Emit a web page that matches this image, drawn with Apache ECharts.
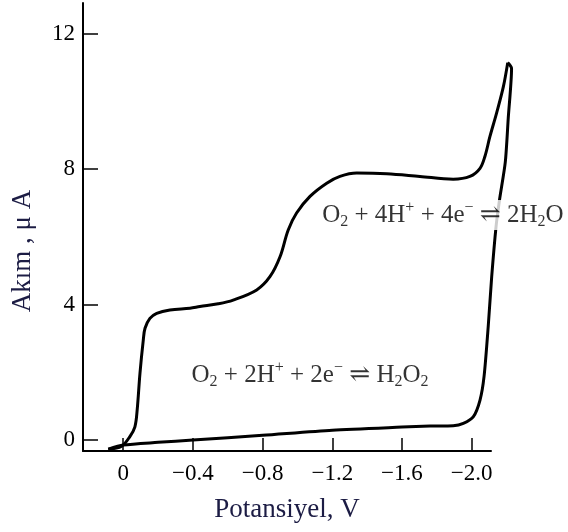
<!DOCTYPE html>
<html>
<head>
<meta charset="utf-8">
<script src="https://cdn.jsdelivr.net/npm/echarts@6/dist/echarts.min.js"></script>
<style>html,body{margin:0;padding:0;background:#fff}#c{width:568px;height:532px}</style>
</head>
<body>
<div id="c"></div>
<script>
// Potential (V) and current (µA)
const forwardScan = [
  [0.086,-0.27],[0.009,-0.18],[-0.038,0.10],[-0.067,0.39],[-0.080,0.89],[-0.096,1.97],
  [-0.115,2.95],[-0.125,3.30],[-0.153,3.59],[-0.192,3.74],[-0.268,3.84],[-0.383,3.89],
  [-0.440,3.94],[-0.545,4.02],[-0.631,4.13],[-0.766,4.43],[-0.842,4.82],[-0.900,5.41],
  [-0.947,6.20],[-0.995,6.70],[-1.072,7.19],[-1.168,7.58],[-1.244,7.78],[-1.340,7.88],
  [-1.512,7.86],[-1.703,7.78],[-1.894,7.70],[-1.990,7.78],[-2.048,8.02],[-2.076,8.37],
  [-2.105,8.96],[-2.143,9.65],[-2.182,10.43],[-2.207,11.14]
];
const reverseScan = [
  [-2.207,11.14],[-2.229,10.97],[-2.210,9.50],[-2.193,8.20],[-2.160,7.09],[-2.140,6.30],
  [-2.115,4.82],[-2.095,3.35],[-2.071,1.87],[-2.048,1.18],[-2.010,0.69],[-1.952,0.49],
  [-1.894,0.42],[-1.761,0.41],[-1.600,0.38],[-1.200,0.29],[-0.800,0.14],[-0.400,0.00],
  [-0.200,-0.07],[0.000,-0.15],[0.086,-0.27]
];
const xTicks = [0, -0.4, -0.8, -1.2, -1.6, -2.0];
const yTicks = [0, 4, 8, 12];
const reactionLabels = [
  '{t|O}{s|2}{t| + 4H}{p|+}{t| + 4e}{p|−}{t| ⇌ 2H}{s|2}{t|O}',
  '{t|O}{s|2}{t| + 2H}{p|+}{t| + 2e}{p|−}{t| ⇌ H}{s|2}{t|O}{s|2}'
];
const reactionAnchors = [[-1.835, 6.64], [-1.072, 1.92]];

const FONT = "'Liberation Serif','DejaVu Serif','Times New Roman',serif";
const X_MAX = 0.231, X_MIN = -2.111, Y_MIN = -0.325, Y_MAX = 12.9;
const GRID_L = 83, GRID_R = 77, PLOT_W = 568 - GRID_L - GRID_R;
const EXTRA_W = 30; // the curve runs past the end of the drawn axis
const X_MIN_WIDE = X_MAX - (X_MAX - X_MIN) * (PLOT_W + EXTRA_W) / PLOT_W;

const chart = echarts.init(document.getElementById('c'), null, {renderer: 'canvas'});
const rich = {
  t: {fontSize: 25, fontFamily: FONT, color: '#000', lineHeight: 30},
  s: {fontSize: 16, fontFamily: FONT, color: '#000', lineHeight: 16, verticalAlign: 'bottom'},
  p: {fontSize: 16, fontFamily: FONT, color: '#000', lineHeight: 16, verticalAlign: 'top'}
};
chart.setOption({
  animation: false,
  backgroundColor: '#fff',
  grid: [
    {left: GRID_L, right: GRID_R, top: 3, bottom: 81},
    {left: GRID_L, right: GRID_R - EXTRA_W, top: 3, bottom: 81}
  ],
  xAxis: [{
    gridIndex: 0, type: 'value', inverse: true, min: X_MIN, max: X_MAX,
    name: 'Potansiyel, V', nameLocation: 'middle', nameGap: 45,
    nameTextStyle: {fontFamily: FONT, fontSize: 27, color: '#1c1c44'},
    axisLine: {show: true, onZero: false, lineStyle: {color: '#000', width: 2}},
    axisTick: {show: true, inside: true, length: 13, lineStyle: {color: '#000', width: 1.5}, customValues: xTicks},
    axisLabel: {fontFamily: FONT, fontSize: 23, color: '#000', margin: 11, customValues: xTicks,
      formatter: v => v === 0 ? '0' : '\u2212' + Math.abs(v).toFixed(1)},
    splitLine: {show: false}
  }, {
    gridIndex: 1, type: 'value', inverse: true, min: X_MIN_WIDE, max: X_MAX, show: false
  }],
  yAxis: [{
    gridIndex: 0, type: 'value', min: Y_MIN, max: Y_MAX,
    axisLine: {show: true, onZero: false, lineStyle: {color: '#000', width: 2}},
    axisTick: {show: true, inside: true, length: 15, lineStyle: {color: '#000', width: 1.5}, customValues: yTicks},
    axisLabel: {fontFamily: FONT, fontSize: 23, color: '#000', margin: 8, customValues: yTicks},
    splitLine: {show: false}
  }, {
    gridIndex: 1, type: 'value', min: Y_MIN, max: Y_MAX, show: false
  }],
  graphic: [{
    type: 'text', x: 23, y: 251, rotation: Math.PI / 2,
    style: {text: 'Akım , μ A', fontFamily: FONT, fontSize: 27, fill: '#1c1c44', align: 'center', verticalAlign: 'middle'}
  }],
  series: [
    {type: 'line', xAxisIndex: 1, yAxisIndex: 1, data: forwardScan, smooth: 0.35, symbol: 'none', z: 2,
      lineStyle: {color: '#000', width: 3}},
    {type: 'line', xAxisIndex: 1, yAxisIndex: 1, data: reverseScan, smooth: 0.25, symbol: 'none', z: 2,
      lineStyle: {color: '#000', width: 3, join: 'miter'}},
    {type: 'scatter', xAxisIndex: 0, yAxisIndex: 0, symbolSize: 0, silent: true, z: 5,
      data: reactionAnchors.map((p, i) => ({value: p, label: {formatter: reactionLabels[i], backgroundColor: i === 0 ? '#fff' : 'transparent'}})),
      label: {show: true, position: 'inside', rich: rich, padding: [0, 2]}}
  ]
});
</script>
</body>
</html>
